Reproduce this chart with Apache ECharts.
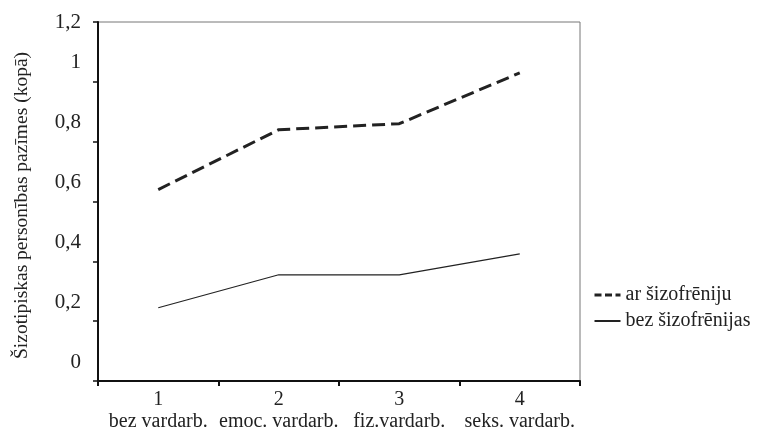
<!DOCTYPE html>
<html>
<head>
<meta charset="utf-8">
<script src="https://cdn.jsdelivr.net/npm/echarts@6/dist/echarts.min.js"></script>
<style>
  html, body { margin: 0; padding: 0; background: #fff; }
  #chart { width: 767px; height: 430px; }
</style>
</head>
<body>
<div id="chart"></div>
<script>
const categories = ['1\nbez vardarb.', '2\nemoc. vardarb.', '3\nfiz.vardarb.', '4\nseks. vardarb.']
const arSizofreniju = [0.64, 0.84, 0.86, 1.03]
const bezSizofrenijas = [0.245, 0.355, 0.355, 0.425]
const seriesNames = ['ar šizofrēniju', 'bez šizofrēnijas']
const yTitle = 'Šizotipiskas personības pazīmes (kopā)'

const font = 'Liberation Serif'
const chart = echarts.init(document.getElementById('chart'))

chart.setOption({
  animation: false,
  textStyle: { fontFamily: font, color: '#222' },
  grid: {
    left: 98, right: 187, top: 22, bottom: 49,
    outerBoundsMode: 'none',
    containLabel: false,
    show: true, borderColor: '#777', borderWidth: 1
  },
  legend: {
    orient: 'vertical',
    left: 588, top: 280,
    itemWidth: 26, itemHeight: 14, itemGap: 6,
    itemStyle: { opacity: 0 },
    textStyle: { fontFamily: font, fontSize: 20, color: '#222' },
    data: [
      { name: seriesNames[0], lineStyle: { type: [7, 3.5], width: 3 } },
      { name: seriesNames[1] }
    ]
  },
  xAxis: {
    type: 'category',
    data: categories,
    boundaryGap: true,
    axisLine: { lineStyle: { color: '#111', width: 2 } },
    axisTick: { show: true, length: 5, lineStyle: { color: '#111', width: 2 } },
    axisLabel: { interval: 0, fontFamily: font, fontSize: 20, color: '#222', lineHeight: 22, margin: 8 }
  },
  yAxis: {
    type: 'value',
    min: 0, max: 1.2, interval: 0.2,
    name: yTitle,
    nameLocation: 'middle',
    nameGap: 66,
    nameTextStyle: { fontFamily: font, fontSize: 19.5, color: '#222', padding: [0, 0, 0, -8] },
    axisLine: { show: true, lineStyle: { color: '#111', width: 2 } },
    axisTick: { show: true, length: 5, lineStyle: { color: '#111', width: 1.5 } },
    splitLine: { show: false },
    axisLabel: {
      fontFamily: font, fontSize: 21, color: '#222', margin: 17,
      formatter: v => {
        const s = String(Math.round(v * 10) / 10).replace('.', ',')
        return Math.abs(v - 1.2) < 1e-6 ? '{t|' + s + '}' : '{s|' + s + '}'
      },
      rich: {
        t: { fontFamily: font, fontSize: 21, color: '#222' },
        s: { fontFamily: font, fontSize: 21, color: '#222', padding: [0, 0, 38, 0] }
      }
    }
  },
  series: [
    {
      name: seriesNames[0],
      type: 'line',
      data: arSizofreniju,
      symbol: 'none',
      lineStyle: { color: '#222', width: 3, type: [13, 6] },
      itemStyle: { color: '#222' }
    },
    {
      name: seriesNames[1],
      type: 'line',
      data: bezSizofrenijas,
      symbol: 'none',
      lineStyle: { color: '#222', width: 1.2, type: 'solid' },
      itemStyle: { color: '#222' }
    }
  ]
})
</script>
</body>
</html>
